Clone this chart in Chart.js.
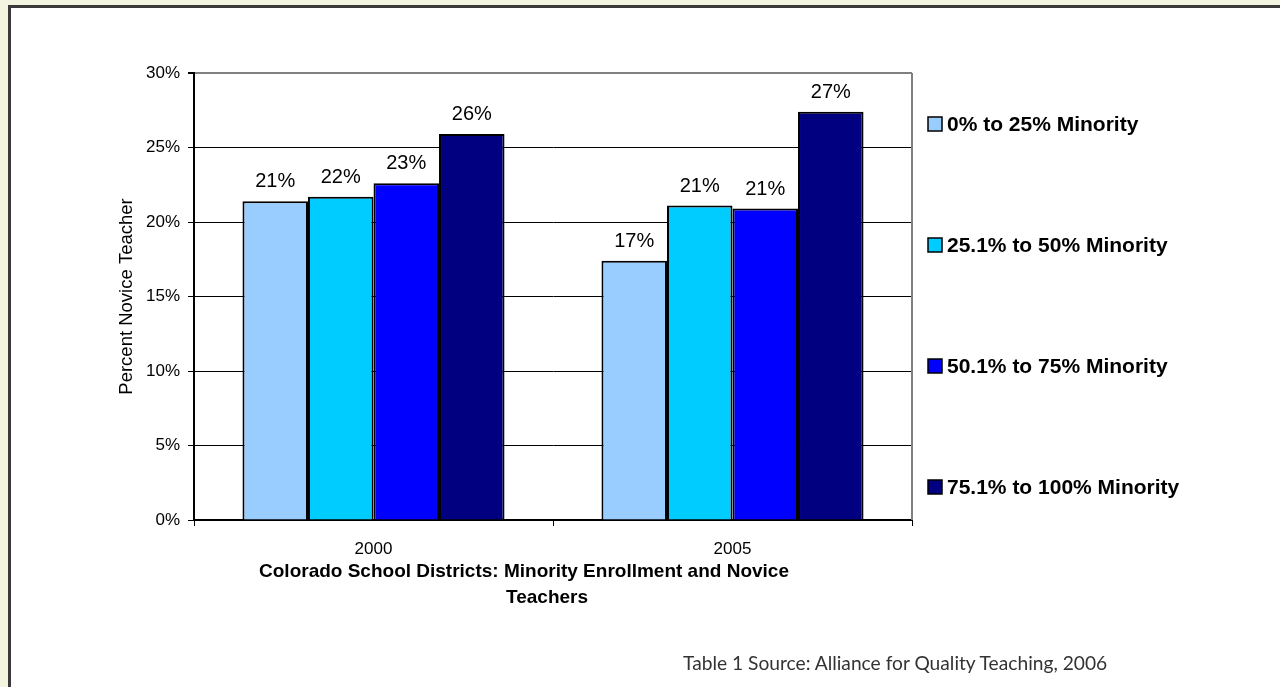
<!DOCTYPE html>
<html>
<head>
<meta charset="utf-8">
<script src="https://cdn.jsdelivr.net/npm/chart.js@4/dist/chart.umd.min.js"></script>
<style>
  html, body { margin: 0; padding: 0; background: #f3f5e1; overflow: hidden; }
  #marco { position: absolute; left: 8px; top: 5px; width: 1300px; height: 700px; background: #fff;
           border-left: 3px solid #3a3a3a; border-top: 3px solid #3a3a3a; }
  #contenedor { position: absolute; left: 0; top: 0; width: 1280px; height: 687px; }
  #fuente { position: absolute; left: 683px; top: 651px; font-family: "Lato", "Open Sans", sans-serif;
            font-size: 19.2px; color: #333; white-space: nowrap; }
</style>
</head>
<body>
<div id="marco"></div>
<div id="contenedor"><canvas id="grafica"></canvas></div>
<div id="fuente">Table 1 Source: Alliance for Quality Teaching, 2006</div>
<script>
// Datos
const anios = ['2000', '2005'];
const nombresSeries = ['0% to 25% Minority', '25.1% to 50% Minority', '50.1% to 75% Minority', '75.1% to 100% Minority'];
const minoria0a25 = [21.4, 17.4];
const minoria25a50 = [21.7, 21.1];
const minoria50a75 = [22.6, 20.9];
const minoria75a100 = [25.9, 27.4];
const marcasY = [0, 5, 10, 15, 20, 25, 30];
const colores = ['#99ccff', '#00ccff', '#0000ff', '#000080'];

const fuente = 'Arial, "Liberation Sans", sans-serif';

// Etiquetas, leyenda, título del eje X y borde derecho del área de trazado
const extras = {
    id: 'extras',
    afterDatasetsDraw(chart) {
        const ctx = chart.ctx;
        ctx.save();
        ctx.fillStyle = '#000';
        ctx.font = '20px ' + fuente;
        ctx.textAlign = 'center';
        ctx.textBaseline = 'alphabetic';
        chart.data.datasets.forEach((ds, i) => {
            chart.getDatasetMeta(i).data.forEach((barra, j) => {
                ctx.fillText(Math.round(ds.data[j]) + '%', barra.x, barra.y - 14);
            });
        });
        ctx.restore();
    },
    afterDraw(chart) {
        const ctx = chart.ctx;
        const area = chart.chartArea;
        ctx.save();
        // borde derecho gris
        ctx.strokeStyle = '#808080';
        ctx.lineWidth = 2;
        ctx.beginPath();
        ctx.moveTo(area.right, area.top);
        ctx.lineTo(area.right, area.bottom);
        ctx.stroke();

        // leyenda
        ctx.font = 'bold 21px ' + fuente;
        ctx.textAlign = 'left';
        ctx.textBaseline = 'middle';
        chart.data.datasets.forEach((ds, i) => {
            const y = 124 + i * 121;
            ctx.fillStyle = ds.backgroundColor;
            ctx.fillRect(928, y - 7, 14, 14);
            ctx.strokeStyle = '#000';
            ctx.lineWidth = 1.5;
            ctx.strokeRect(928, y - 7, 14, 14);
            ctx.fillStyle = '#000';
            ctx.fillText(ds.label, 947, y + 1);
        });

        // título del eje X
        ctx.font = 'bold 19px ' + fuente;
        ctx.textAlign = 'center';
        ctx.fillText('Colorado School Districts: Minority Enrollment and Novice', 524, 572);
        ctx.fillText('Teachers', 547, 598);
        ctx.restore();
    }
};

const series = [minoria0a25, minoria25a50, minoria50a75, minoria75a100];

new Chart(document.querySelector('#grafica'), {
    type: 'bar',
    data: {
        labels: anios,
        datasets: series.map((valores, i) => ({
            label: nombresSeries[i],
            data: valores,
            backgroundColor: colores[i],
            borderColor: '#000',
            borderWidth: 2,
            categoryPercentage: 0.73,
            barPercentage: 1
        }))
    },
    options: {
        responsive: true,
        maintainAspectRatio: false,
        animation: false,
        devicePixelRatio: 1,
        layout: { padding: { left: 116, right: 368, top: 73, bottom: 0 } },
        plugins: {
            legend: { display: false },
            tooltip: { enabled: false }
        },
        scales: {
            x: {
                afterFit: (escala) => { escala.height = 167; },
                grid: { drawOnChartArea: false, tickLength: 6, tickColor: '#000', lineWidth: 1 },
                border: { color: '#000', width: 2 },
                ticks: { color: '#000', font: { family: fuente, size: 17 }, padding: 13 }
            },
            y: {
                min: 0,
                max: 30,
                afterFit: (escala) => { escala.width = 78; },
                afterBuildTicks: (escala) => { escala.ticks = marcasY.map(v => ({ value: v })); },
                grid: {
                    color: (c) => (c.tick && c.tick.value === 30 ? '#808080' : '#000'),
                    lineWidth: (c) => (c.tick && c.tick.value === 30 ? 2 : 1),
                    tickLength: 6,
                    tickColor: '#000'
                },
                border: { color: '#000', width: 2 },
                ticks: {
                    color: '#000',
                    font: { family: fuente, size: 17 },
                    padding: 8,
                    callback: (v) => v + '%'
                },
                title: {
                    display: true,
                    text: 'Percent Novice Teacher',
                    color: '#000',
                    font: { family: fuente, size: 18.5 },
                    padding: 0
                }
            }
        }
    },
    plugins: [extras]
});
</script>
</body>
</html>
